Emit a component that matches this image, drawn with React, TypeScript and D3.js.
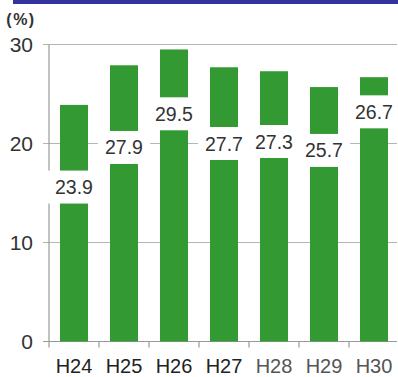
import React from "react";
import * as d3 from "d3";

const categories = ["H24", "H25", "H26", "H27", "H28", "H29", "H30"];
const values = [23.9, 27.9, 29.5, 27.7, 27.3, 25.7, 26.7];
// value level (in %) at which each data label box is centred
const labelLevels = [15.6, 19.6, 23.0, 20.0, 20.2, 19.3, 23.2];
const yTicks = [0, 10, 20, 30];
const xLabelColors = ["#222", "#222", "#222", "#222", "#555", "#555", "#555"];

const W = 398;
const H = 377;
const axisX = 49;
const green = "#339933";

export default function App() {
  const x = d3.scaleBand<string>().domain(categories).range([axisX, axisX + 350]).padding(0);
  const y = d3.scaleLinear().domain([0, 30]).range([341.5, 44.5]);
  const barW = 28;
  const boxW = 52;
  const boxH = 33;

  return (
    <svg
      width={W}
      height={H}
      style={{ position: "absolute", left: 0, top: 0, background: "#fff" }}
      fontFamily="'Liberation Sans', Arial, sans-serif"
    >
      <rect x={13} y={0} width={W - 13} height={4} fill="#33339f" />
      <text x={21} y={25} fontSize={16} fontWeight="bold" textAnchor="middle" fill="#333" letterSpacing={1.5}>
        (%)
      </text>
      {yTicks.filter((t) => t > 0).map((t) => (
        <line key={"g" + t} x1={axisX - 6} x2={W - 1} y1={y(t)} y2={y(t)} stroke="#b5b5b5" strokeWidth={1.2} />
      ))}
      <line x1={axisX - 6} x2={W - 1} y1={y(0)} y2={y(0)} stroke="#999" strokeWidth={1.2} />
      <line x1={axisX} x2={axisX} y1={y(30)} y2={y(0)} stroke="#999" strokeWidth={1.2} />
      {categories.map((c, i) => (
        <line key={"xt" + i} x1={x(c)!} x2={x(c)!} y1={y(0)} y2={y(0) + 6} stroke="#999" strokeWidth={1.2} />
      ))}
      {yTicks.map((t) => (
        <text key={"yl" + t} x={33} y={y(t) + 7.5} fontSize={21} textAnchor="end" fill="#333">
          {t}
        </text>
      ))}
      {categories.map((c, i) => {
        const cx = x(c)! + x.bandwidth() / 2;
        return (
          <g key={c}>
            <rect x={cx - barW / 2} y={y(values[i])} width={barW} height={y(0) - y(values[i])} fill={green} />
          </g>
        );
      })}
      {categories.map((c, i) => {
        const cx = x(c)! + x.bandwidth() / 2;
        const cy = y(labelLevels[i]);
        return (
          <g key={"lab" + c}>
            <rect x={cx - boxW / 2} y={cy - boxH / 2} width={boxW} height={boxH} fill="#fff" />
            <text x={cx} y={cy + 7} fontSize={19.5} textAnchor="middle" fill="#333">
              {values[i].toFixed(1)}
            </text>
          </g>
        );
      })}
      {categories.map((c, i) => (
        <text
          key={"xl" + c}
          x={x(c)! + x.bandwidth() / 2}
          y={373}
          fontSize={20}
          textAnchor="middle"
          fill={xLabelColors[i]}
          fontFamily="'Liberation Sans Narrow', 'Liberation Sans', Arial, sans-serif"
        >
          {c}
        </text>
      ))}
    </svg>
  );
}
